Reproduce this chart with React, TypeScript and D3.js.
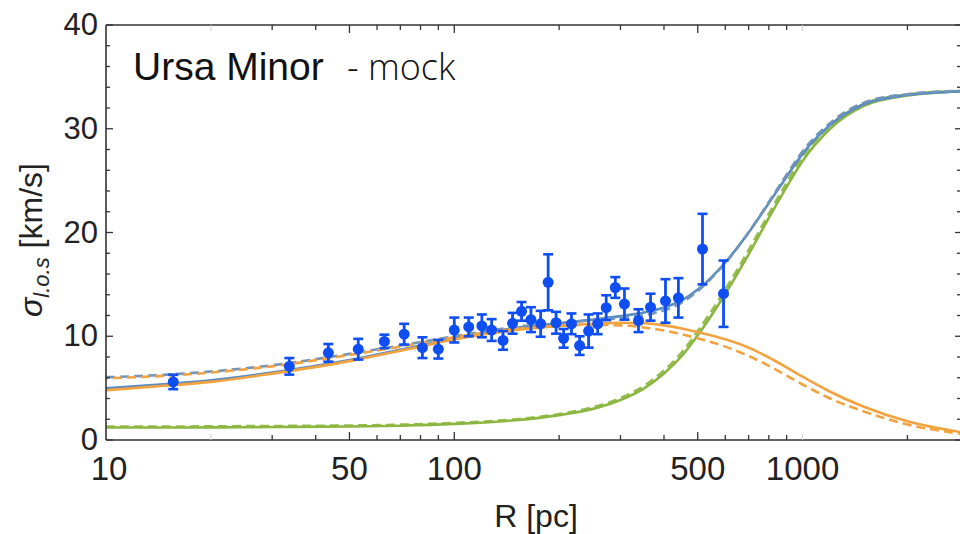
import React from 'react';
import * as d3 from 'd3';

const W = 960;
const H = 534;
const PL = 106, PT = 25, PR = 961, PB = 440;

// axis ticks
const xTickLabels = [10, 50, 100, 500, 1000];
const xMajorTicks = [50, 100, 500];
const xMinorTicks = [30, 40, 60, 70, 80, 90, 200, 300, 400, 600, 700, 800, 900, 2000];
const xFaintTicks = [20, 1000];
const yTickLabels = [0, 10, 20, 30, 40];
const yMinorTicks = [2, 4, 6, 8, 12, 14, 16, 18, 22, 24, 26, 28, 32, 34, 36, 38];

// data points (mock Ursa Minor)
const dataR = [15.6, 33.6, 43.5, 53, 63, 71.8, 81, 90, 100, 110, 120, 128, 138, 147, 156, 166, 177, 186, 196, 206, 217, 229, 243, 258, 273, 290, 308, 338, 366, 404, 440, 516, 593];
const dataSigma = [5.6, 7.1, 8.4, 8.75, 9.5, 10.2, 8.9, 8.75, 10.6, 10.9, 11.0, 10.6, 9.6, 11.25, 12.4, 11.6, 11.2, 15.2, 11.3, 9.8, 11.2, 9.1, 10.5, 11.2, 12.75, 14.7, 13.1, 11.5, 12.8, 13.4, 13.7, 18.4, 14.1];
const dataErr = [0.7, 0.8, 0.85, 1.0, 0.65, 1.0, 1.0, 0.9, 1.2, 0.9, 1.1, 1.05, 0.9, 1.0, 0.9, 1.2, 1.25, 2.7, 1.05, 0.9, 1.0, 0.9, 1.6, 1.0, 1.2, 1.0, 1.5, 1.1, 1.3, 2.1, 1.9, 3.4, 3.2];

// model curves
const curveR = [10, 15, 20, 30, 50, 70, 100, 150, 200, 250, 300, 350, 400, 450, 500, 600, 700, 800, 900, 1000, 1200, 1500, 2000, 2850];
const greenSolid = [1.2, 1.2, 1.22, 1.25, 1.3, 1.38, 1.55, 1.9, 2.4, 3.0, 3.85, 4.95, 6.4, 8.1, 10.1, 14.1, 17.9, 21.4, 24.4, 26.9, 30.0, 32.2, 33.2, 33.6];
const greenDashed = [1.3, 1.3, 1.32, 1.35, 1.4, 1.48, 1.65, 2.0, 2.5, 3.15, 4.05, 5.2, 6.7, 8.45, 10.5, 14.5, 18.3, 21.8, 24.8, 27.3, 30.3, 32.4, 33.3, 33.65];
const orangeSolid = [4.8, 5.25, 5.6, 6.4, 7.6, 8.6, 9.7, 10.6, 11.0, 11.2, 11.3, 11.25, 11.05, 10.75, 10.4, 9.7, 8.9, 7.95, 7.0, 6.1, 4.65, 3.2, 1.8, 0.75];
const orangeDashed = [5.95, 6.2, 6.5, 7.1, 8.2, 9.0, 9.9, 10.7, 11.0, 11.1, 11.05, 10.85, 10.55, 10.2, 9.8, 9.0, 8.1, 7.15, 6.2, 5.35, 4.0, 2.75, 1.5, 0.6];
const blueSolid = [5.0, 5.4, 5.75, 6.5, 7.7, 8.7, 9.8, 10.8, 11.25, 11.6, 11.94, 12.29, 12.77, 13.46, 14.5, 17.11, 19.99, 22.83, 25.38, 27.58, 30.36, 32.36, 33.25, 33.6];
const blueDashed = [6.05, 6.3, 6.6, 7.2, 8.3, 9.1, 10.0, 10.9, 11.3, 11.54, 11.77, 12.03, 12.5, 13.24, 14.36, 17.07, 20.01, 22.94, 25.56, 27.82, 30.56, 32.52, 33.33, 33.66];

const x = d3.scaleLog().domain([10, 2850]).range([PL, PR]);
const y = d3.scaleLinear().domain([0, 40]).range([PB, PT]);

const line = d3
  .line<[number, number]>()
  .x((d) => x(d[0]))
  .y((d) => y(d[1]))
  .curve(d3.curveMonotoneX);

const mk = (vals: number[]) => line(curveR.map((r, i) => [r, vals[i]] as [number, number])) || '';

const BLUE = '#5a8cc0';
const BLUE_D = '#7294ba';
const ORANGE = '#f2a23e';
const GREEN = '#8bb63f';
const PT_COL = '#0f4ef2';
const AX = '#333';

export default function App() {
  return (
    <svg
      width={W}
      height={H}
      viewBox={`0 0 ${W} ${H}`}
      style={{ position: 'absolute', left: 0, top: 0, background: '#fff' }}
    >
      <defs>
        <clipPath id="plotclip">
          <rect x={PL} y={PT} width={PR - PL} height={PB - PT} />
        </clipPath>
      </defs>
      <rect x={0} y={0} width={W} height={H} fill="#fff" />

      {/* curves */}
      <g clipPath="url(#plotclip)" fill="none" strokeWidth={2.6}>
        <path d={mk(greenSolid)} stroke={GREEN} />
        <path d={mk(greenDashed)} stroke={GREEN} strokeDasharray="9,5" opacity={0.9} />
        <path d={mk(blueSolid)} stroke={BLUE} />
        <path d={mk(blueDashed)} stroke={BLUE_D} strokeDasharray="9,5" />
        <path d={mk(orangeSolid)} stroke={ORANGE} />
        <path d={mk(orangeDashed)} stroke={ORANGE} strokeDasharray="9,5" strokeDashoffset={7} />
      </g>

      {/* data points */}
      <g>
        {dataR.map((r, i) => {
          const cx = x(r);
          const cy = y(dataSigma[i]);
          const y1 = y(dataSigma[i] + dataErr[i]);
          const y2 = y(dataSigma[i] - dataErr[i]);
          return (
            <g key={i}>
              <line x1={cx} x2={cx} y1={y1} y2={y2} stroke={PT_COL} strokeWidth={2.8} />
              <line x1={cx - 5} x2={cx + 5} y1={y1} y2={y1} stroke={PT_COL} strokeWidth={2.6} />
              <line x1={cx - 5} x2={cx + 5} y1={y2} y2={y2} stroke={PT_COL} strokeWidth={2.6} />
              <circle cx={cx} cy={cy} r={5.5} fill={PT_COL} />
            </g>
          );
        })}
      </g>

      {/* frame */}
      <g stroke={AX} strokeWidth={1.6} fill="none">
        <line x1={PL} x2={PL} y1={PT} y2={PB} />
        <line x1={PL} x2={PR} y1={PB} y2={PB} />
        <line x1={PL} x2={PR} y1={PT} y2={PT} />
        <line x1={PR} x2={PR} y1={PT} y2={PB} />
      </g>

      {/* x ticks */}
      <g stroke={AX} strokeWidth={1.3}>
        {xMajorTicks.map((t) => (
          <g key={'xm' + t}>
            <line x1={x(t)} x2={x(t)} y1={PB} y2={PB - 8} />
            <line x1={x(t)} x2={x(t)} y1={PT} y2={PT + 8} />
          </g>
        ))}
        {xMinorTicks.map((t) => (
          <g key={'xn' + t}>
            <line x1={x(t)} x2={x(t)} y1={PB} y2={PB - 5} />
            <line x1={x(t)} x2={x(t)} y1={PT} y2={PT + 5} />
          </g>
        ))}
      </g>
      <g stroke="#d0d0d0" strokeWidth={1}>
        {xFaintTicks.map((t) => (
          <g key={'xf' + t}>
            <line x1={x(t)} x2={x(t)} y1={PB} y2={PB - 6} />
            <line x1={x(t)} x2={x(t)} y1={PT} y2={PT + 6} />
          </g>
        ))}
      </g>

      {/* y ticks */}
      <g stroke={AX} strokeWidth={1.3}>
        {yTickLabels.map((t) => (
          <g key={'ym' + t}>
            <line x1={PL} x2={PL + 7} y1={y(t)} y2={y(t)} />
            <line x1={PR} x2={PR - 6} y1={y(t)} y2={y(t)} />
          </g>
        ))}
        {yMinorTicks.map((t) => (
          <g key={'yn' + t}>
            <line x1={PL} x2={PL + 4} y1={y(t)} y2={y(t)} />
            <line x1={PR} x2={PR - 4} y1={y(t)} y2={y(t)} />
          </g>
        ))}
      </g>

      {/* tick labels */}
      <g fontFamily="'Liberation Sans', Arial, sans-serif" fill="#222">
        {xTickLabels.map((t, i) => (
          <text key={'xl' + t} x={x(t) + (i === 0 ? 3 : 0)} y={480} fontSize={33} textAnchor="middle">
            {t}
          </text>
        ))}
        {yTickLabels.map((t) => (
          <text key={'yl' + t} x={98} y={y(t) - 0.5} fontSize={31} textAnchor="end" dominantBaseline="central">
            {t}
          </text>
        ))}
      </g>

      {/* axis titles */}
      <text x={536} y={527} fontSize={32} textAnchor="middle" fontFamily="'Liberation Sans', Arial, sans-serif" fill="#222">
        R [pc]
      </text>
      <text
        transform="translate(42,240) rotate(-90)"
        fontSize={32}
        textAnchor="middle"
        fontFamily="'Liberation Sans', Arial, sans-serif"
        fill="#222"
      >
        <tspan fontStyle="italic">σ</tspan>
        <tspan fontStyle="italic" fontSize={22} dy={7}>l.o.s</tspan>
        <tspan dy={-7}> [km/s]</tspan>
      </text>

      {/* title */}
      <text x={133} y={80} fontSize={39} fontFamily="'Liberation Sans', Arial, sans-serif" fill="#111">
        Ursa Minor
      </text>
      <text x={347} y={80} fontSize={36} fontWeight={300} fontFamily="'Open Sans', sans-serif" fill="#111">
        - mock
      </text>
    </svg>
  );
}
